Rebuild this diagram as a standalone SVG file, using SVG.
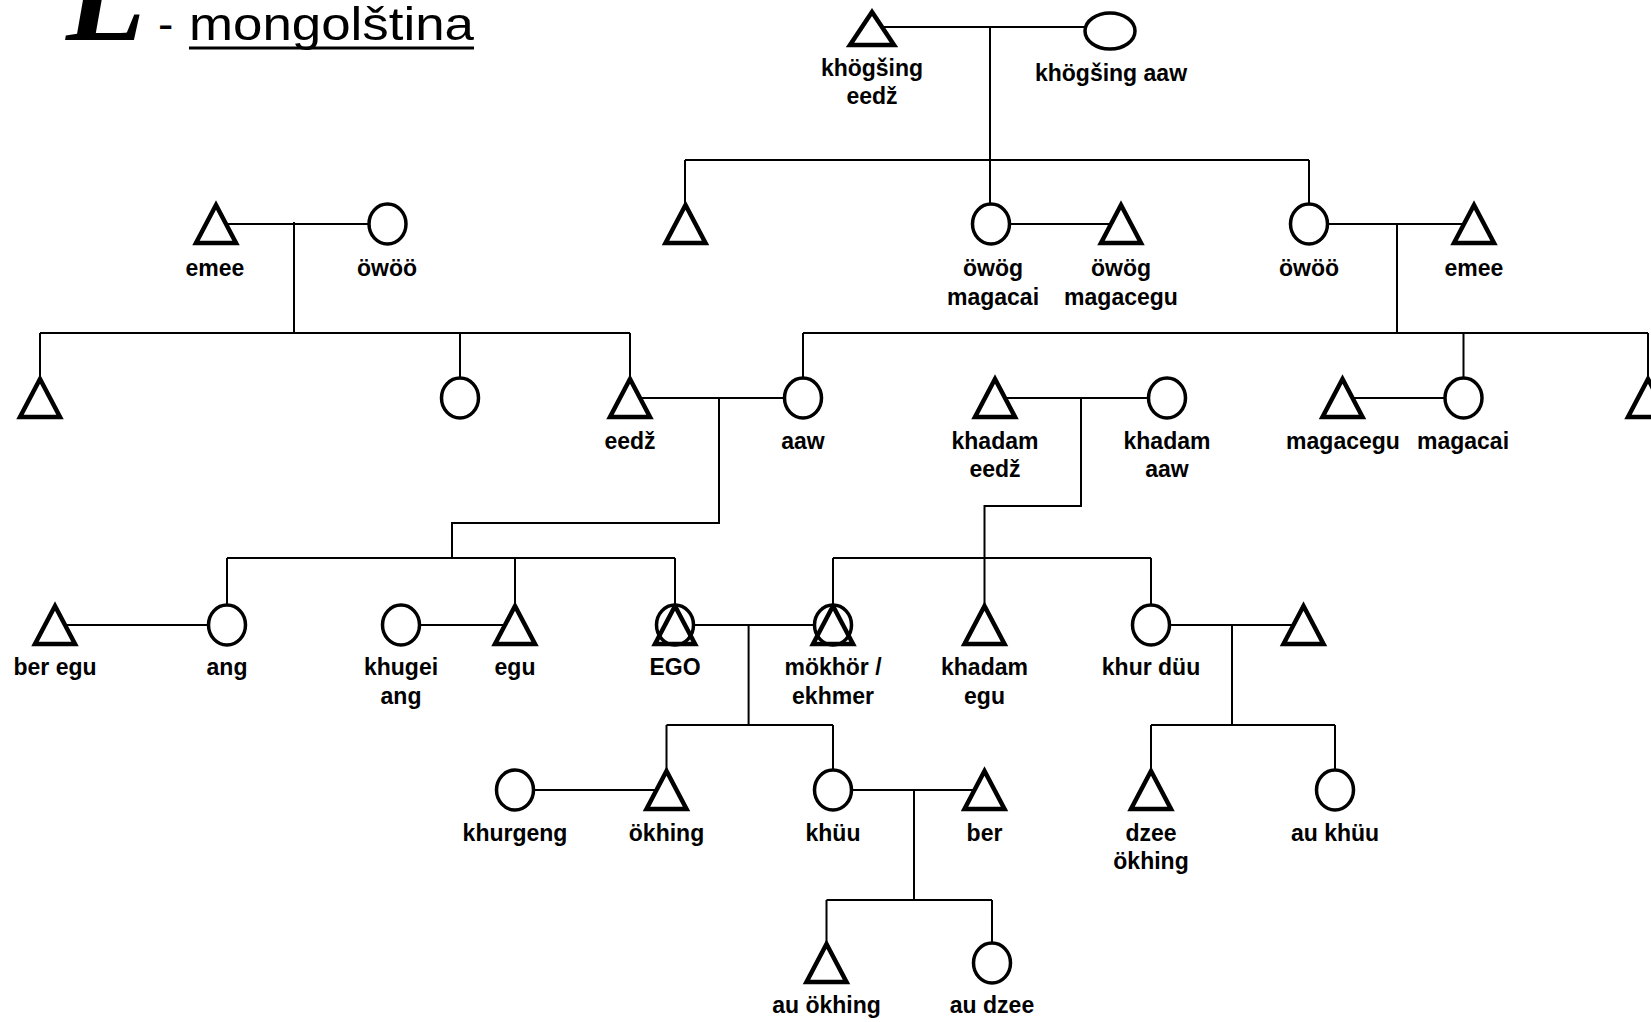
<svg xmlns="http://www.w3.org/2000/svg" xmlns:xlink="http://www.w3.org/1999/xlink" width="1651" height="1022" viewBox="0 0 1651 1022">
<style>
.tri{fill:none;stroke:#000;stroke-width:4.5;stroke-linejoin:miter}
.cir{fill:none;stroke:#000;stroke-width:3.5}
.ln{fill:none;stroke:#000;stroke-width:2}
.lbl{font-family:"Liberation Sans",Arial,Helvetica,sans-serif;font-weight:bold;font-size:23px;text-anchor:middle;fill:#000}
</style>
<defs>
<path id="tri" d="M0,-19 L20,19 L-20,19 Z"/>
<ellipse id="cir" cx="0" cy="0" rx="18.5" ry="20"/>
</defs>
<rect width="1651" height="1022" fill="#fff"/>
<g id="title">
<text x="66" y="40" font-family="'Liberation Serif',serif" font-weight="bold" font-style="italic" font-size="130">L</text>
<text x="158" y="40" font-family="'Liberation Sans',Arial,sans-serif" font-size="46">-</text>
<text x="189" y="40" font-family="'Liberation Sans',Arial,sans-serif" font-size="46" textLength="285" lengthAdjust="spacingAndGlyphs">mongolština</text>
<line x1="189" y1="48" x2="474" y2="48" stroke="#000" stroke-width="3"/>
</g>
<g id="connectors" class="ln">
<path d="M882,27 H1085 M990,27 V160 M685,160 H1309 M685,160 V205 M990,160 V204 M1309,160 V204"/>
<path d="M1009.5,224 H1111"/>
<path d="M1327.5,224 H1464 M1397,224 V333"/>
<path d="M226,224 H369 M294,222 V333"/>
<path d="M40,333 H630 M40,333 V379 M460,333 V378 M630,333 V379"/>
<path d="M803,333 H1648 M803,333 V378 M1463.5,333 V378 M1648,333 V379"/>
<path d="M640,398 H784.5 M719,398 V523 H452 V558"/>
<path d="M1005,398 H1148.5 M1081,398 V506 H984.5 V606"/>
<path d="M1352.5,398 H1445"/>
<path d="M227,558 H675 M227,558 V605 M515,558 V606 M675,558 V605"/>
<path d="M833,558 H1151 M833,558 V605 M1151,558 V605"/>
<path d="M65,625 H208.5 M419.5,625 H505"/>
<path d="M693.5,625 H814.5 M748.6,625 V725 M666.5,725 H833 M666.5,725 V771 M833,725 V770"/>
<path d="M1169.5,625 H1293.5 M1232,625 V725 M1151,725 H1335 M1151,725 V771 M1335,725 V770"/>
<path d="M533.5,790 H656.5 M851.5,790 H974.5 M914,790 V900 M826.5,900 H992 M826.5,900 V944 M992,900 V943"/>
</g>
<g id="n_khogsing_eedz"><path class="tri" d="M872,12 L894,45 L850,45 Z"/><text class="lbl" x="872" y="76">khögšing</text><text class="lbl" x="872" y="104">eedž</text></g>
<g id="n_khogsing_aaw"><ellipse class="cir" cx="1110" cy="31" rx="25" ry="18"/><text class="lbl" x="1111" y="81">khögšing aaw</text></g>
<g id="n_r1_brother"><use href="#tri" class="tri" x="685.5" y="224"/></g>
<g id="n_owog_magacai"><use href="#cir" class="cir" x="991" y="224"/><text class="lbl" x="993" y="276">öwög</text><text class="lbl" x="993" y="305">magacai</text></g>
<g id="n_owog_magacegu"><use href="#tri" class="tri" x="1121" y="224"/><text class="lbl" x="1121" y="276">öwög</text><text class="lbl" x="1121" y="305">magacegu</text></g>
<g id="n_owoo_r"><use href="#cir" class="cir" x="1309" y="224"/><text class="lbl" x="1309" y="276">öwöö</text></g>
<g id="n_emee_r"><use href="#tri" class="tri" x="1474" y="224"/><text class="lbl" x="1474" y="276">emee</text></g>
<g id="n_emee_l"><use href="#tri" class="tri" x="216" y="224"/><text class="lbl" x="215" y="276">emee</text></g>
<g id="n_owoo_l"><use href="#cir" class="cir" x="387.5" y="224"/><text class="lbl" x="387" y="276">öwöö</text></g>
<g id="n_r2_tri_l"><use href="#tri" class="tri" x="40" y="398"/></g>
<g id="n_r2_cir_l"><use href="#cir" class="cir" x="460" y="398"/></g>
<g id="n_eedz"><use href="#tri" class="tri" x="630" y="398"/><text class="lbl" x="630" y="449">eedž</text></g>
<g id="n_aaw"><use href="#cir" class="cir" x="803" y="398"/><text class="lbl" x="803" y="449">aaw</text></g>
<g id="n_khadam_eedz"><use href="#tri" class="tri" x="995" y="398"/><text class="lbl" x="995" y="449">khadam</text><text class="lbl" x="995" y="477">eedž</text></g>
<g id="n_khadam_aaw"><use href="#cir" class="cir" x="1167" y="398"/><text class="lbl" x="1167" y="449">khadam</text><text class="lbl" x="1167" y="477">aaw</text></g>
<g id="n_magacegu"><use href="#tri" class="tri" x="1342.5" y="398"/><text class="lbl" x="1343" y="449">magacegu</text></g>
<g id="n_magacai"><use href="#cir" class="cir" x="1463.5" y="398"/><text class="lbl" x="1463" y="449">magacai</text></g>
<g id="n_r2_tri_r"><use href="#tri" class="tri" x="1648" y="398"/></g>
<g id="n_ber_egu"><use href="#tri" class="tri" x="55" y="625"/><text class="lbl" x="55" y="675">ber egu</text></g>
<g id="n_ang"><use href="#cir" class="cir" x="227" y="625"/><text class="lbl" x="227" y="675">ang</text></g>
<g id="n_khugei_ang"><use href="#cir" class="cir" x="401" y="625"/><text class="lbl" x="401" y="675">khugei</text><text class="lbl" x="401" y="704">ang</text></g>
<g id="n_egu"><use href="#tri" class="tri" x="515" y="625"/><text class="lbl" x="515" y="675">egu</text></g>
<g id="n_ego"><use href="#tri" class="tri" x="675" y="625"/><use href="#cir" class="cir" x="675" y="625"/><text class="lbl" x="675" y="675">EGO</text></g>
<g id="n_mokhor"><use href="#tri" class="tri" x="833" y="625"/><use href="#cir" class="cir" x="833" y="625"/><text class="lbl" x="833" y="675">mökhör /</text><text class="lbl" x="833" y="704">ekhmer</text></g>
<g id="n_khadam_egu"><use href="#tri" class="tri" x="984.5" y="625"/><text class="lbl" x="984.5" y="675">khadam</text><text class="lbl" x="984.5" y="704">egu</text></g>
<g id="n_khur_duu"><use href="#cir" class="cir" x="1151" y="625"/><text class="lbl" x="1151" y="675">khur düu</text></g>
<g id="n_r3_tri"><use href="#tri" class="tri" x="1303.5" y="625"/></g>
<g id="n_khurgeng"><use href="#cir" class="cir" x="515" y="790"/><text class="lbl" x="515" y="841">khurgeng</text></g>
<g id="n_okhing"><use href="#tri" class="tri" x="666.5" y="790"/><text class="lbl" x="666.5" y="841">ökhing</text></g>
<g id="n_khuu"><use href="#cir" class="cir" x="833" y="790"/><text class="lbl" x="833" y="841">khüu</text></g>
<g id="n_ber"><use href="#tri" class="tri" x="984.5" y="790"/><text class="lbl" x="984.5" y="841">ber</text></g>
<g id="n_dzee_okhing"><use href="#tri" class="tri" x="1151" y="790"/><text class="lbl" x="1151" y="841">dzee</text><text class="lbl" x="1151" y="869">ökhing</text></g>
<g id="n_au_khuu"><use href="#cir" class="cir" x="1335" y="790"/><text class="lbl" x="1335" y="841">au khüu</text></g>
<g id="n_au_okhing"><use href="#tri" class="tri" x="826.5" y="963"/><text class="lbl" x="826.5" y="1013">au ökhing</text></g>
<g id="n_au_dzee"><use href="#cir" class="cir" x="992" y="963"/><text class="lbl" x="992" y="1013">au dzee</text></g>
</svg>
